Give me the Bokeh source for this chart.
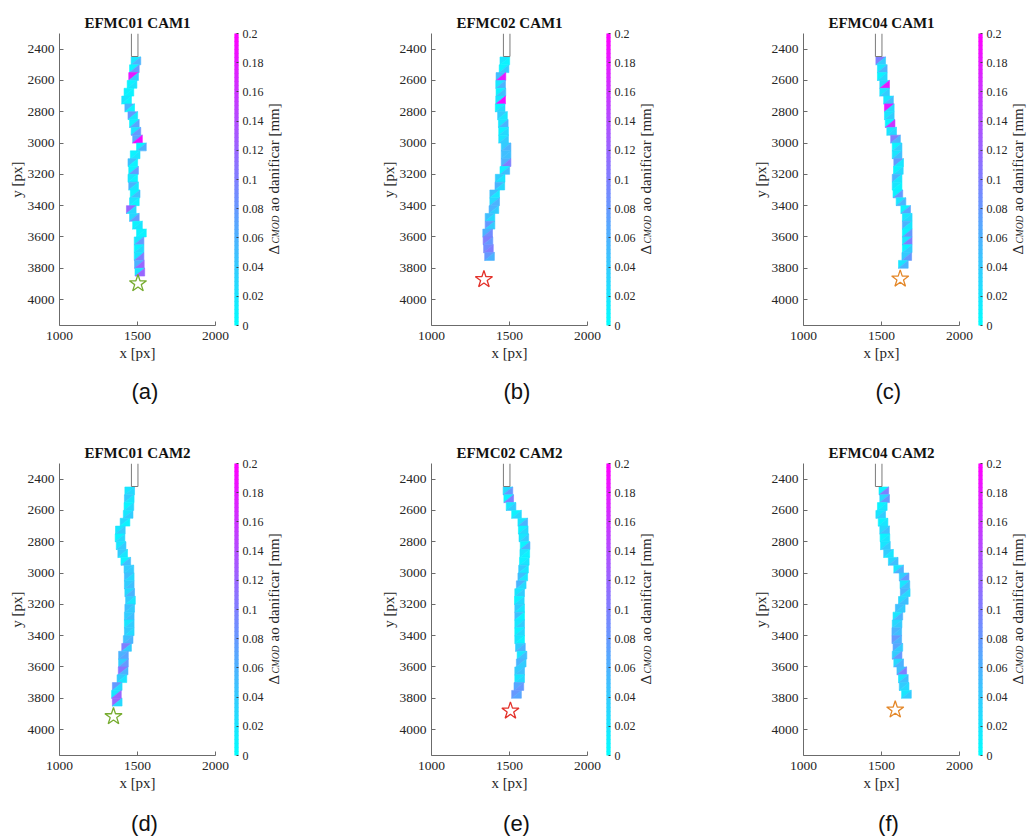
from math import pi
from bokeh.plotting import figure
from bokeh.models import Range1d, FixedTicker, PrintfTickFormatter, Label, Title, ColumnDataSource
from bokeh.core.properties import value
from bokeh.transform import linear_cmap
from bokeh.layouts import row, column
from bokeh.embed import file_html
from bokeh.resources import INLINE

# ---------------- data ----------------
titles = ["EFMC01 CAM1", "EFMC02 CAM1", "EFMC04 CAM1",
          "EFMC01 CAM2", "EFMC02 CAM2", "EFMC04 CAM2"]
sub_labels = ["(a)", "(b)", "(c)", "(d)", "(e)", "(f)"]

x_ticks = [1000, 1500, 2000]
y_ticks = [2400, 2600, 2800, 3000, 3200, 3400, 3600, 3800, 4000]
cbar_ticks = [0, 0.02, 0.04, 0.06, 0.08, 0.1, 0.12, 0.14, 0.16, 0.18, 0.2]
cbar_title = ["Δ", "CMOD", "ao danificar [mm]"]

notch_x = [1461, 1461, 1503, 1503]
notch_y = [2300, 2447, 2447, 2300]

crack_y = [2450, 2500, 2550, 2600, 2650, 2700, 2750, 2800, 2850, 2900,
           2950, 3000, 3050, 3100, 3150, 3200, 3250, 3300, 3350, 3400,
           3450, 3500, 3550, 3600, 3650, 3700, 3750, 3800, 3850]

efmc01_cam1_x = [1490, 1480, 1475, 1465, 1445, 1430, 1450, 1470, 1480, 1490,
                 1500, 1525, 1485, 1470, 1475, 1470, 1475, 1485, 1480, 1460,
                 1480, 1500, 1525, 1510, 1510, 1510, 1512, 1515, 1515]
efmc01_cam1_v = [(0.02, 0.06), (0.01, 0.08), (0.18, 0.04), (0.01, 0.02), (0.01, 0.01),
                 (0.02, 0.01), (0.06, 0.01), (0.08, 0.02), (0.01, 0.07), (0.02, 0.08),
                 (0.07, 0.19), (0.01, 0.06), (0.01, 0.02), (0.05, 0.01), (0.01, 0.08),
                 (0.02, 0.01), (0.06, 0.02), (0.01, 0.05), (0.02, 0.01), (0.12, 0.03),
                 (0.03, 0.08), (0.01, 0.02), (0.01, 0.01), (0.02, 0.08), (0.01, 0.03),
                 (0.02, 0.10), (0.06, 0.12), (0.02, 0.12)]
efmc01_cam1_star = (1503, 3898)

efmc02_cam1_x = [1470, 1465, 1445, 1443, 1445, 1443, 1440, 1455, 1460, 1462,
                 1462, 1478, 1478, 1478, 1470, 1440, 1438, 1405, 1405, 1400,
                 1375, 1375, 1360, 1362, 1365, 1372, 1378]
efmc02_cam1_v = [(0.02, 0.01), (0.01, 0.04), (0.05, 0.18), (0.02, 0.06), (0.01, 0.05),
                 (0.02, 0.19), (0.01, 0.03), (0.04, 0.02), (0.02, 0.06), (0.01, 0.03),
                 (0.02, 0.04), (0.04, 0.06), (0.05, 0.05), (0.06, 0.10), (0.01, 0.05),
                 (0.04, 0.02), (0.06, 0.03), (0.05, 0.02), (0.03, 0.06), (0.06, 0.04),
                 (0.05, 0.03), (0.08, 0.04), (0.06, 0.09), (0.10, 0.08), (0.09, 0.10),
                 (0.08, 0.06)]
efmc02_cam1_star = (1336, 3872)

efmc04_cam1_x = [1495, 1505, 1505, 1520, 1520, 1545, 1550, 1550, 1555, 1565,
                 1590, 1600, 1600, 1610, 1608, 1600, 1600, 1605, 1625, 1655,
                 1665, 1665, 1665, 1665, 1665, 1662, 1640, 1630]
efmc04_cam1_v = [(0.10, 0.04), (0.02, 0.06), (0.01, 0.03), (0.03, 0.18), (0.02, 0.04),
                 (0.02, 0.05), (0.18, 0.03), (0.02, 0.04), (0.01, 0.16), (0.02, 0.03),
                 (0.10, 0.06), (0.01, 0.04), (0.02, 0.05), (0.08, 0.02), (0.01, 0.03),
                 (0.06, 0.02), (0.02, 0.01), (0.01, 0.08), (0.02, 0.06), (0.01, 0.07),
                 (0.02, 0.03), (0.06, 0.02), (0.01, 0.08), (0.02, 0.10), (0.01, 0.04),
                 (0.04, 0.08), (0.02, 0.06)]
efmc04_cam1_star = (1620, 3868)

efmc01_cam2_x = [1450, 1447, 1445, 1440, 1420, 1390, 1388, 1395, 1405, 1425,
                 1445, 1447, 1447, 1450, 1455, 1450, 1447, 1447, 1447, 1440,
                 1430, 1410, 1410, 1408, 1400, 1370, 1365, 1370, 1372]
efmc01_cam2_v = [(0.02, 0.03), (0.04, 0.02), (0.01, 0.03), (0.02, 0.04), (0.03, 0.01),
                 (0.02, 0.04), (0.01, 0.03), (0.02, 0.04), (0.04, 0.02), (0.01, 0.05),
                 (0.04, 0.04), (0.05, 0.03), (0.04, 0.05), (0.03, 0.06), (0.04, 0.02),
                 (0.05, 0.04), (0.04, 0.05), (0.02, 0.04), (0.04, 0.03), (0.05, 0.06),
                 (0.10, 0.04), (0.06, 0.07), (0.04, 0.08), (0.11, 0.06), (0.04, 0.02),
                 (0.08, 0.03), (0.02, 0.12), (0.12, 0.03)]
efmc01_cam2_star = (1346, 3917)

efmc02_cam2_x = [1490, 1495, 1510, 1545, 1585, 1588, 1592, 1600, 1598, 1595,
                 1590, 1585, 1575, 1565, 1563, 1565, 1565, 1565, 1565, 1565,
                 1570, 1580, 1575, 1565, 1565, 1560, 1545, 1520]
efmc02_cam2_v = [(0.03, 0.08), (0.01, 0.10), (0.02, 0.04), (0.01, 0.03), (0.02, 0.06),
                 (0.01, 0.03), (0.02, 0.04), (0.01, 0.06), (0.02, 0.01), (0.01, 0.02),
                 (0.04, 0.02), (0.05, 0.02), (0.06, 0.03), (0.02, 0.04), (0.01, 0.03),
                 (0.04, 0.02), (0.05, 0.01), (0.02, 0.04), (0.01, 0.03), (0.02, 0.01),
                 (0.04, 0.06), (0.02, 0.05), (0.06, 0.04), (0.04, 0.05), (0.02, 0.03),
                 (0.07, 0.08), (0.08, 0.07)]
efmc02_cam2_star = (1506, 3881)

efmc04_cam2_x = [1515, 1520, 1505, 1495, 1510, 1520, 1522, 1525, 1545, 1575,
                 1610, 1645, 1650, 1652, 1640, 1620, 1605, 1600, 1598, 1598,
                 1605, 1600, 1610, 1630, 1640, 1645, 1660, 1650]
efmc04_cam2_v = [(0.01, 0.10), (0.03, 0.08), (0.01, 0.02), (0.02, 0.04), (0.01, 0.02),
                 (0.03, 0.05), (0.01, 0.02), (0.02, 0.04), (0.04, 0.02), (0.03, 0.05),
                 (0.02, 0.06), (0.04, 0.08), (0.02, 0.05), (0.06, 0.03), (0.03, 0.05),
                 (0.05, 0.04), (0.02, 0.06), (0.03, 0.04), (0.06, 0.05), (0.08, 0.06),
                 (0.07, 0.04), (0.04, 0.08), (0.03, 0.06), (0.05, 0.10), (0.02, 0.05),
                 (0.04, 0.03), (0.02, 0.04)]
efmc04_cam2_star = (1588, 3874)

star_colors = ["#77AC30", "#E3322B", "#E4882A", "#77AC30", "#E3322B", "#E4882A"]

panels = [
    (efmc01_cam1_x, efmc01_cam1_v, efmc01_cam1_star),
    (efmc02_cam1_x, efmc02_cam1_v, efmc02_cam1_star),
    (efmc04_cam1_x, efmc04_cam1_v, efmc04_cam1_star),
    (efmc01_cam2_x, efmc01_cam2_v, efmc01_cam2_star),
    (efmc02_cam2_x, efmc02_cam2_v, efmc02_cam2_star),
    (efmc04_cam2_x, efmc04_cam2_v, efmc04_cam2_star),
]

# ---------------- style ----------------
SERIF = "Liberation Serif"
SANS = "Liberation Sans"
AX_COLOR = "#6b6b6b"
TXT_COLOR = "#262626"
cool = ["#%02x%02x%02x" % (i, 255 - i, 255) for i in range(256)]
CLOW, CHIGH = 0.0, 0.2
HALF_W = 31

PAGE_W, PAGE_H = 1027, 838
FRAME_TOP = 33
FRAME_H = 292
ROW_H = [430, 375]
STRIP_H = PAGE_H - ROW_H[0] - ROW_H[1]
MAIN_W = 232
LEFT_B = 59
CB_W = 34
COL_W = 372
LAB_W = [COL_W - MAIN_W - CB_W, COL_W - MAIN_W - CB_W, PAGE_W - 2 * COL_W - MAIN_W - CB_W]
N_BAR = 73
SUB_OFFSET = 85  # centre of "(a)" relative to the frame's left edge


def crack_source(xc, vals):
    xs, ys, vs = [], [], []
    for i, (vl, vr) in enumerate(vals):
        x0 = xc[i]
        y0, y1 = crack_y[i], crack_y[i + 1]
        xs.append([x0 - HALF_W, x0 + HALF_W, x0 - HALF_W])
        ys.append([y0, y0, y1])
        vs.append(vl)
        xs.append([x0 + HALF_W, x0 + HALF_W, x0 - HALF_W])
        ys.append([y0, y1, y1])
        vs.append(vr)
    return ColumnDataSource(dict(xs=xs, ys=ys, v=vs))


def style_axis(ax, ticks):
    ax.ticker = FixedTicker(ticks=ticks)
    ax.minor_tick_line_color = None
    ax.major_tick_in = 4
    ax.major_tick_out = 0
    ax.axis_line_color = AX_COLOR
    ax.major_tick_line_color = AX_COLOR
    ax.major_label_text_font = SERIF
    ax.major_label_text_font_size = "13.5px"
    ax.major_label_text_color = TXT_COLOR
    ax.axis_label_text_font = SERIF
    ax.axis_label_text_font_size = "15px"
    ax.axis_label_text_font_style = "normal"
    ax.axis_label_text_color = TXT_COLOR


def base_fig(w, h, bottom, **kw):
    f = figure(width=w, height=h, output_backend="svg", toolbar_location=None,
               min_border_top=FRAME_TOP, min_border_bottom=bottom, **kw)
    f.outline_line_color = None
    f.grid.visible = False
    f.background_fill_color = "white"
    f.border_fill_color = "white"
    return f


def make_panel(k):
    r = k // 3
    c = k % 3
    h = ROW_H[r]
    bottom = h - FRAME_TOP - FRAME_H
    xc, vals, star = panels[k]

    p = base_fig(MAIN_W, h, bottom, x_range=Range1d(1000, 2000),
                 y_range=Range1d(4166, 2300), min_border_left=LEFT_B, min_border_right=17)
    style_axis(p.xaxis[0], x_ticks)
    style_axis(p.yaxis[0], y_ticks)
    p.xaxis[0].axis_label = "x [px]"
    p.yaxis[0].axis_label = "y [px]"
    p.xaxis[0].major_label_standoff = 6
    p.xaxis[0].axis_label_standoff = 2
    p.yaxis[0].major_label_standoff = 5
    p.yaxis[0].axis_label_standoff = 0

    p.title.text = titles[k]
    p.title.align = "center"
    p.title.text_font = SERIF
    p.title.text_font_size = "15px"
    p.title.text_font_style = "bold"
    p.title.text_color = "#111111"
    p.title.standoff = 6

    if r == 0:
        p.add_layout(Title(text=sub_labels[k], align="left", offset=72,
                           text_font=SANS, text_font_size="22px",
                           text_font_style="normal", text_color="#111111",
                           standoff=26), "below")

    mapper = linear_cmap("v", cool, CLOW, CHIGH)
    p.patches("xs", "ys", source=crack_source(xc, vals), fill_color=mapper,
              line_color=mapper, line_width=0.6)
    p.line(notch_x, notch_y, line_color="#7a7a7a", line_width=1)
    p.scatter([star[0]], [star[1]], marker="star", size=18, fill_alpha=0,
              line_color=star_colors[k], line_width=1.3)

    # colour bar figure
    cb = base_fig(CB_W, h, bottom, x_range=Range1d(0, 1), y_range=Range1d(CLOW, CHIGH),
                  x_axis_type=None, y_axis_location="right",
                  min_border_left=2, min_border_right=CB_W - 9)
    step = (CHIGH - CLOW) / N_BAR
    bar_cols = [cool[int(round(255 * (i + 0.5) / N_BAR))] for i in range(N_BAR)]
    cb.quad(left=0, right=1, bottom=[CLOW + i * step for i in range(N_BAR)],
            top=[CLOW + (i + 1) * step for i in range(N_BAR)],
            fill_color=bar_cols, line_color=bar_cols, line_width=1)
    ya = cb.yaxis[0]
    ya.ticker = FixedTicker(ticks=cbar_ticks)
    ya.formatter = PrintfTickFormatter(format="%g")
    ya.minor_tick_line_color = None
    ya.major_tick_in = 2
    ya.major_tick_out = 0
    ya.major_tick_line_color = "#444444"
    ya.axis_line_color = None
    ya.major_label_standoff = 4
    ya.major_label_text_font = SERIF
    ya.major_label_text_font_size = "12px"
    ya.major_label_text_color = TXT_COLOR

    # colour bar title figure (frame covers the whole area, so nothing is clipped)
    lw = LAB_W[c]
    lab = base_fig(lw, h, bottom, x_range=Range1d(0, lw), y_range=Range1d(CLOW, CHIGH),
                   x_axis_type=None, y_axis_type=None,
                   min_border_left=0, min_border_right=0)

    def ydat(abs_y):
        return (FRAME_TOP + FRAME_H - abs_y) / FRAME_H * (CHIGH - CLOW)

    xb = 7
    lab.add_layout(Label(x=xb, y=ydat(254), text=cbar_title[0], angle=pi / 2,
                         text_align="left", text_baseline="alphabetic",
                         text_font=SERIF, text_font_size="15px", text_color=TXT_COLOR))
    lab.add_layout(Label(x=xb + 2, y=ydat(243), text=cbar_title[1], angle=pi / 2,
                         text_align="left", text_baseline="alphabetic",
                         text_font=SERIF, text_font_size="9.5px", text_font_style="italic",
                         text_color=TXT_COLOR))
    lab.add_layout(Label(x=xb, y=ydat(211), text=cbar_title[2], angle=pi / 2,
                         text_align="left", text_baseline="alphabetic",
                         text_font=SERIF, text_font_size="15px", text_color=TXT_COLOR))
    return [p, cb, lab]


figs = [make_panel(k) for k in range(6)]
top = row(*[f for trio in figs[:3] for f in trio])
bot = row(*[f for trio in figs[3:] for f in trio])

# strip holding the sub-figure letters of the second row
strip = figure(width=PAGE_W, height=STRIP_H, x_range=Range1d(0, PAGE_W),
               y_range=Range1d(0, STRIP_H), output_backend="svg", toolbar_location=None,
               x_axis_type=None, y_axis_type=None, min_border=0)
strip.outline_line_color = None
strip.grid.visible = False
strip.text(x=[c * COL_W + LEFT_B + SUB_OFFSET for c in range(3)], y=[STRIP_H - 18] * 3,
           text=sub_labels[3:], text_align="center", text_baseline="middle",
           text_font=value(SANS), text_font_size=value("22px"), text_color="#111111")

layout = column(top, bot, strip)

open("out.html", "w").write(file_html(layout, INLINE))
